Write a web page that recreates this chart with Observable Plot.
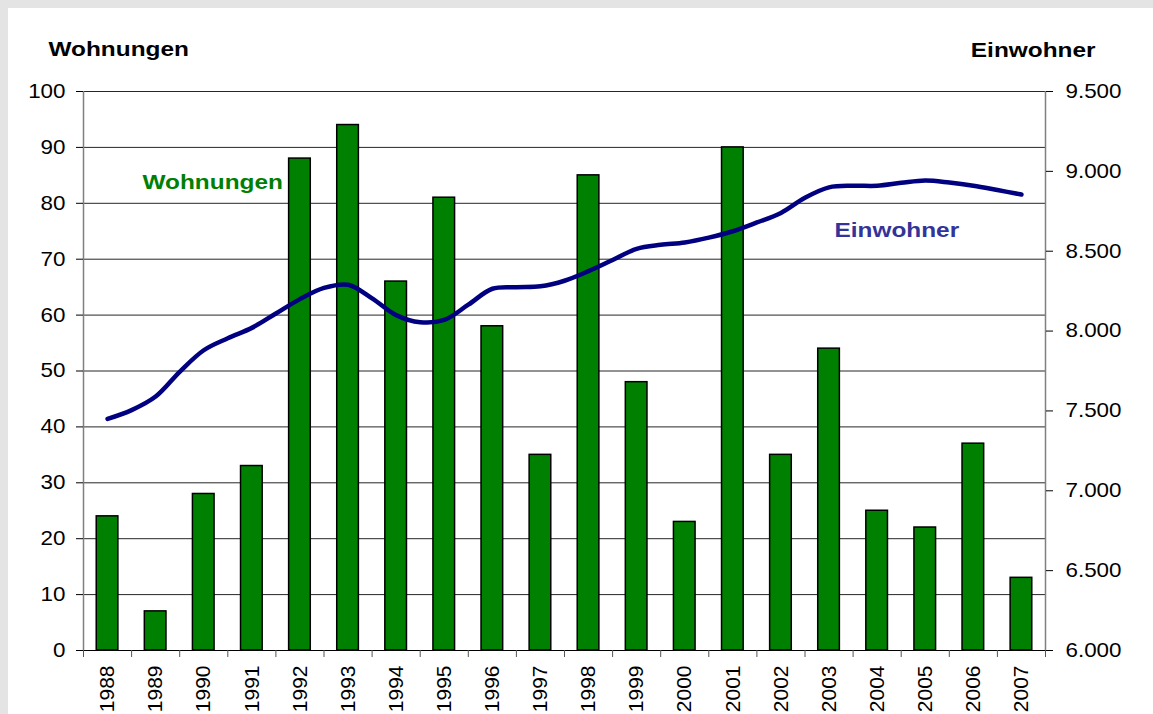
<!DOCTYPE html>
<html><head><meta charset="utf-8">
<script src="https://cdn.jsdelivr.net/npm/d3@7"></script>
<script src="https://cdn.jsdelivr.net/npm/@observablehq/plot@0.6"></script>
<style>
html,body{margin:0;padding:0;background:#e4e4e4;width:1153px;height:714px;overflow:hidden;}
#panel{position:absolute;left:8px;top:8px;right:0;bottom:0;background:#fff;}
#chart{position:absolute;left:0;top:0;}
</style></head><body><div id="panel"></div><div id="chart"></div>
<script>
// ---- data ----
const years = [1988,1989,1990,1991,1992,1993,1994,1995,1996,1997,1998,1999,2000,2001,2002,2003,2004,2005,2006,2007];
const wohnungen = [24,7,28,33,88,94,66,81,58,35,85,48,23,90,35,54,25,22,37,13];
const einwohnerZeit = [1988,1988.5,1989,1989.5,1990,1990.5,1991,1991.5,1992,1992.5,1993,1993.5,1994,1994.5,1995,1995.5,1996,1996.5,1997,1997.5,1998,1998.5,1999,1999.5,2000,2000.5,2001,2001.5,2002,2002.5,2003,2003.5,2004,2004.5,2005,2005.5,2006,2006.5,2007];
const einwohner = [7450,7505,7590,7745,7880,7955,8020,8110,8200,8270,8290,8205,8100,8055,8070,8165,8265,8275,8280,8315,8375,8445,8515,8540,8555,8585,8625,8680,8740,8835,8900,8910,8910,8928,8943,8930,8910,8883,8855];
const wohnTicks = [0,10,20,30,40,50,60,70,80,90,100];
const einwTicks = [6000,6500,7000,7500,8000,8500,9000,9500];

// ---- helpers ----
const barData = years.map((y,i)=>({jahr:y, wert:wohnungen[i]}));
const lineData = einwohnerZeit.map((t,i)=>({zeit:t, wert:einwohner[i]}));
const E0 = einwTicks[0], E1 = einwTicks[einwTicks.length-1];
const W1 = wohnTicks[wohnTicks.length-1];
const toLeft = v => (v-E0)/(E1-E0)*W1;
const fromLeft = t => t/W1*(E1-E0)+E0;
const de = d3.formatLocale({decimal:",",thousands:".",grouping:[3],currency:["","€"]});
const fmt = de.format(",.0f");
const bounds = years.map(y=>y-0.5).concat([years[years.length-1]+0.5]);
const font = "'Liberation Sans', Arial, sans-serif";

const chart = Plot.plot({
  width:1153, height:714,
  marginLeft:83, marginRight:108, marginTop:91, marginBottom:64,
  style:{background:"transparent", fontFamily:font, fontSize:"21px", color:"#000"},
  x:{type:"linear", domain:[bounds[0], bounds[bounds.length-1]]},
  y:{domain:[0,W1]},
  marks:[
    Plot.ruleY(wohnTicks.slice(1), {stroke:"#000", strokeWidth:1, strokeOpacity:0.85}),
    Plot.ruleX([bounds[0]], {stroke:"#808080", strokeWidth:1.5}),
    Plot.ruleX([bounds[bounds.length-1]], {stroke:"#808080", strokeWidth:1.5}),
    Plot.rectY(barData, {x1:d=>d.jahr-0.225, x2:d=>d.jahr+0.225, y:"wert", fill:"#008000", stroke:"#000", strokeWidth:1.5}),
    Plot.ruleY([0], {stroke:"#000", strokeWidth:1.2}),
    Plot.line(lineData, {x:"zeit", y:d=>toLeft(d.wert), stroke:"#000080", strokeWidth:4.5, curve:"catmull-rom"}),
    Plot.axisY({anchor:"left", ticks:wohnTicks, tickSize:7, tickPadding:11, label:null, stroke:"#000", fill:"#000", fontSize:20}),
    Plot.axisY({anchor:"right", ticks:einwTicks.map(toLeft), tickFormat:t=>fmt(Math.round(fromLeft(t))), tickSize:7, tickPadding:13, label:null, stroke:"#000", fill:"#000", fontSize:20}),
    Plot.axisX({ticks:bounds, tickSize:7, tickFormat:()=>"", label:null, stroke:"#555"}),
    Plot.axisX({ticks:years, tickSize:0, tickPadding:15, tickRotate:-90, tickFormat:d=>String(d), label:null, fill:"#000", fontSize:21}),
    Plot.text(["Wohnungen"], {frameAnchor:"top-left", dx:-35, dy:-50, textAnchor:"start", fontWeight:"bold", fontSize:20, fill:"#000"}),
    Plot.text(["Einwohner"], {frameAnchor:"top-right", dx:50, dy:-49, textAnchor:"end", fontWeight:"bold", fontSize:20, fill:"#000"}),
    Plot.text(["Wohnungen"], {frameAnchor:"top-left", dx:59, dy:83, textAnchor:"start", fontWeight:"bold", fontSize:20, fill:"#008000"}),
    Plot.text(["Einwohner"], {frameAnchor:"top-left", dx:751, dy:131, textAnchor:"start", fontWeight:"bold", fontSize:20, fill:"#333399"})
  ]
});
// horizontal stretch of the original rendering
const stretch = (sel, s) => chart.querySelectorAll(sel).forEach(t => {
  const tr = t.getAttribute("transform") || "";
  t.setAttribute("transform", tr + ` scale(${s},1)`);
});
stretch('g[font-weight="bold"] text', 1.22);
stretch('g[aria-label="y-axis tick label"] text', 1.12);
document.getElementById("chart").appendChild(chart);
</script></body></html>
